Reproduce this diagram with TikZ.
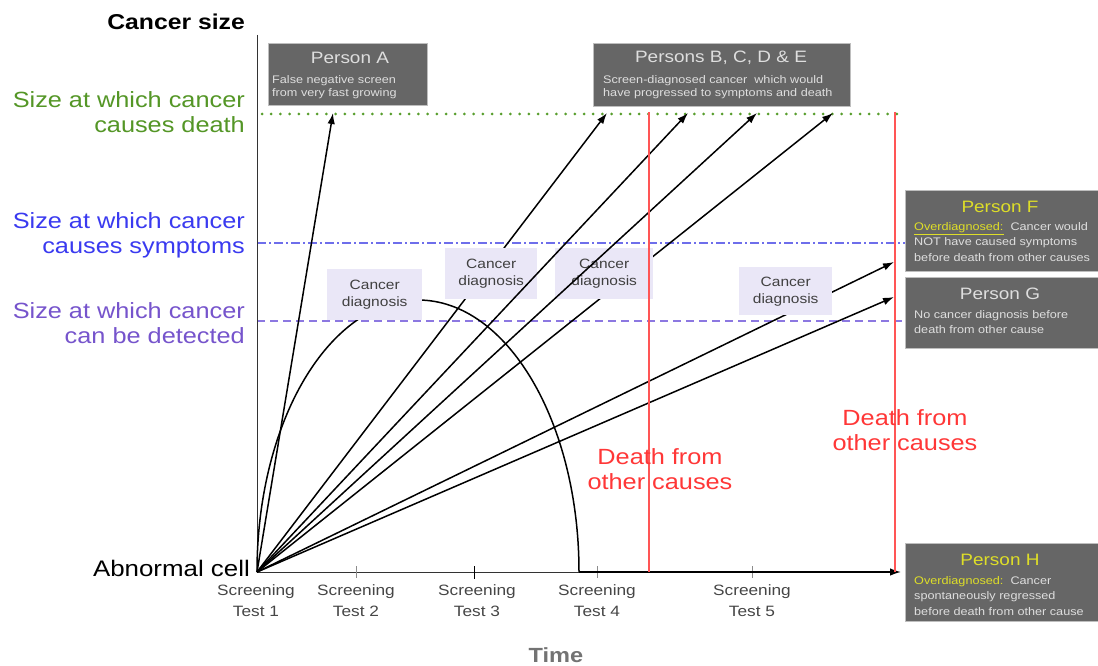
\documentclass[tikz,border=0pt]{standalone}
\usepackage{fontspec}
\setmainfont[FakeStretch=1.15]{Liberation Sans}
\usetikzlibrary{arrows.meta}

\definecolor{deathgreen}{RGB}{84,150,38}
\definecolor{deathdots}{RGB}{88,158,45}
\definecolor{symblue}{RGB}{58,58,240}
\definecolor{symline}{RGB}{110,110,235}
\definecolor{detpurple}{RGB}{118,84,204}
\definecolor{detline}{RGB}{140,120,225}
\definecolor{otherred}{RGB}{255,55,55}
\definecolor{boxgray}{RGB}{102,102,102}
\definecolor{boxedge}{RGB}{190,190,190}
\definecolor{boxtext}{RGB}{222,222,222}
\definecolor{boxyellow}{RGB}{222,222,40}
\definecolor{diagfill}{RGB}{234,231,247}
\definecolor{labelgray}{RGB}{70,70,70}
\definecolor{timegray}{RGB}{115,115,115}

\newcommand{\fsz}[2]{\fontsize{#1}{#2}\selectfont}
\newcommand{\overdx}{{\color{boxyellow}Overdiagnosed:}}

\begin{document}
\begin{tikzpicture}[x=1pt,y=-1pt,
  arr/.style={line width=1.5pt, -{Latex[length=11pt,width=7.5pt]}},
  growth/.style={line width=1.5pt},
  axisline/.style={line width=1pt, black!80},
  tick/.style={line width=0.8pt, black!45},
  redline/.style={line width=2pt, otherred!85},
  lvl/.style={font=\fsz{22}{25}, align=right, anchor=east, inner sep=0pt},
  redtxt/.style={font=\fsz{22}{24.5}, align=center, text=otherred, inner sep=0pt},
  scr/.style={font=\fsz{15}{21}, align=center, text=labelgray, inner sep=0pt},
  diagbox/.style={fill=diagfill, draw=none, anchor=north west, inner sep=0pt},
  diagtxt/.style={font=\fsz{13.5}{17}, align=center, text=black!75, inner sep=0pt},
  graybox/.style={fill=boxgray, draw=boxedge, line width=0.8pt, anchor=north west, inner sep=0pt},
  ttl/.style={font=\fsz{16.5}{18}, text=boxtext, inner sep=0pt},
  bodytop/.style={font=\fsz{11}{13.5}, align=left, text=boxtext, anchor=west, inner sep=0pt},
  bodyside/.style={font=\fsz{11}{15.5}, align=left, text=boxtext, anchor=west, inner sep=0pt}
]
\useasboundingbox (0,0) rectangle (1098,666);
\fill[white] (0,0) rectangle (1098,666);

% ---------- reference points ----------
\coordinate (O) at (257,572);
\coordinate (ytop) at (257,35);
\coordinate (regend) at (579,572);
\coordinate (tA) at (333,113);
\coordinate (tB) at (607,113);
\coordinate (tC) at (688,113);
\coordinate (tD) at (757,113);
\coordinate (tE) at (833,113);
\coordinate (tF) at (894,262);
\coordinate (tG) at (894,297);
\coordinate (tH) at (901,572);

% ---------- size thresholds ----------
\draw[deathdots, line width=3pt, line cap=round, dash pattern=on 0pt off 9.2pt] (262,114) -- (905,114);
\draw[symline, line width=1.2pt, dash pattern=on 9pt off 3pt on 2pt off 3pt] (257,243) -- (905,243);
\draw[detline, line width=1.2pt, dash pattern=on 8pt off 5pt] (257,321) -- (905,321);

% ---------- axes ----------
\draw[axisline] (ytop) -- (O);
\draw[axisline] (O) -- (regend);
\foreach \tx in {356,597,752} \draw[tick] (\tx,566) -- (\tx,578);
\draw[line width=1pt, black] (474,566) -- (474,579);

% ---------- growth trajectories (behind the diagnosis labels) ----------
\draw[arr] (O) -- (tA);
\draw[arr] (O) -- (tB);
\draw[arr] (O) -- (tE);
\draw[arr] (O) -- (tF);
\draw[arr] (O) -- (tG);
% regressing cancer: rises, then shrinks back to nothing
\draw[growth] (O) arc[start angle=180, end angle=0, x radius=161pt, y radius=272pt];
\draw[arr] (regend) -- (tH);

% ---------- diagnosis labels ----------
\node[diagbox, minimum width=95pt, minimum height=51pt] (d1) at (327,269) {};
\node[diagtxt] (d1t) at (d1.center) {Cancer\\diagnosis};
\node[diagbox, minimum width=92pt, minimum height=51pt] (d2) at (445,248) {};
\node[diagtxt] (d2t) at (d2.center) {Cancer\\diagnosis};
\node[diagbox, minimum width=98pt, minimum height=51pt] (d3) at (555,248) {};
\node[diagtxt] (d3t) at (d3.center) {Cancer\\diagnosis};
\node[diagbox, minimum width=93pt, minimum height=48pt] (d4) at (739,267) {};
\node[diagtxt] (d4t) at (d4.center) {Cancer\\diagnosis};

% ---------- trajectories drawn over the labels ----------
\draw[arr] (O) -- (tC);
\draw[arr] (O) -- (tD);

% ---------- deaths from other causes ----------
\draw[redline] (649,112) -- (649,572);
\draw[redline] (895,112) -- (895,572);
\node[redtxt] (r1) at (660,469) {Death from\\other causes};
\node[redtxt] (r2) at (905,430) {Death from\\other causes};

% ---------- axis labels ----------
\node[font=\fsz{21.5}{24}\bfseries, anchor=base east, inner sep=0pt] (ylab) at (245,30) {Cancer size};
\node[lvl, text=deathgreen] (ldeath) at (245,112) {Size at which cancer\\causes death};
\node[lvl, text=symblue] (lsym) at (245,235) {Size at which cancer\\causes symptoms};
\node[lvl, text=detpurple] (ldet) at (245,323) {Size at which cancer\\can be detected};
\node[font=\fsz{22.5}{25}, anchor=base east, inner sep=0pt] (abn) at (250,576) {Abnormal cell};
\node[scr] (s1) at (256,601) {Screening\\Test 1};
\node[scr] (s2) at (356,601) {Screening\\Test 2};
\node[scr] (s3) at (477,601) {Screening\\Test 3};
\node[scr] (s4) at (597,601) {Screening\\Test 4};
\node[scr] (s5) at (752,601) {Screening\\Test 5};
\node[font=\fsz{20.5}{22}\bfseries, text=timegray, inner sep=0pt] (xlab) at (556,655) {Time};

% ---------- person boxes ----------
\node[graybox, minimum width=159pt, minimum height=62pt] (pA) at (268,43) {};
\node[ttl] (pAt) at (350,58) {Person A};
\node[bodytop] (pAb) at (272,87) {False negative screen\\from very fast growing};

\node[graybox, minimum width=257pt, minimum height=63pt] (pB) at (593,43) {};
\node[ttl] (pBt) at (721,58) {Persons B, C, D \& E};
\node[bodytop] (pBb) at (603,87) {Screen-diagnosed cancer\ \ which would\\have progressed to symptoms and death};

\node[graybox, minimum width=193pt, minimum height=81pt] (pF) at (905,190) {};
\node[ttl, text=boxyellow] (pFt) at (1000,207) {Person F};
\node[bodyside] (pFb) at (914,242) {{\color{boxyellow}\underline{Overdiagnosed:}}\ \ Cancer would\\NOT have caused symptoms\\before death from other causes};

\node[graybox, minimum width=193pt, minimum height=71pt] (pG) at (905,277) {};
\node[ttl] (pGt) at (1000,294) {Person G};
\node[bodyside] (pGb) at (914,322) {No cancer diagnosis before\\death from other cause};

\node[graybox, minimum width=193pt, minimum height=78pt] (pH) at (905,543) {};
\node[ttl, text=boxyellow] (pHt) at (1000,560) {Person H};
\node[bodyside] (pHb) at (914,596) {\overdx\ \ Cancer\\spontaneously regressed\\before death from other cause};
\end{tikzpicture}
\end{document}
